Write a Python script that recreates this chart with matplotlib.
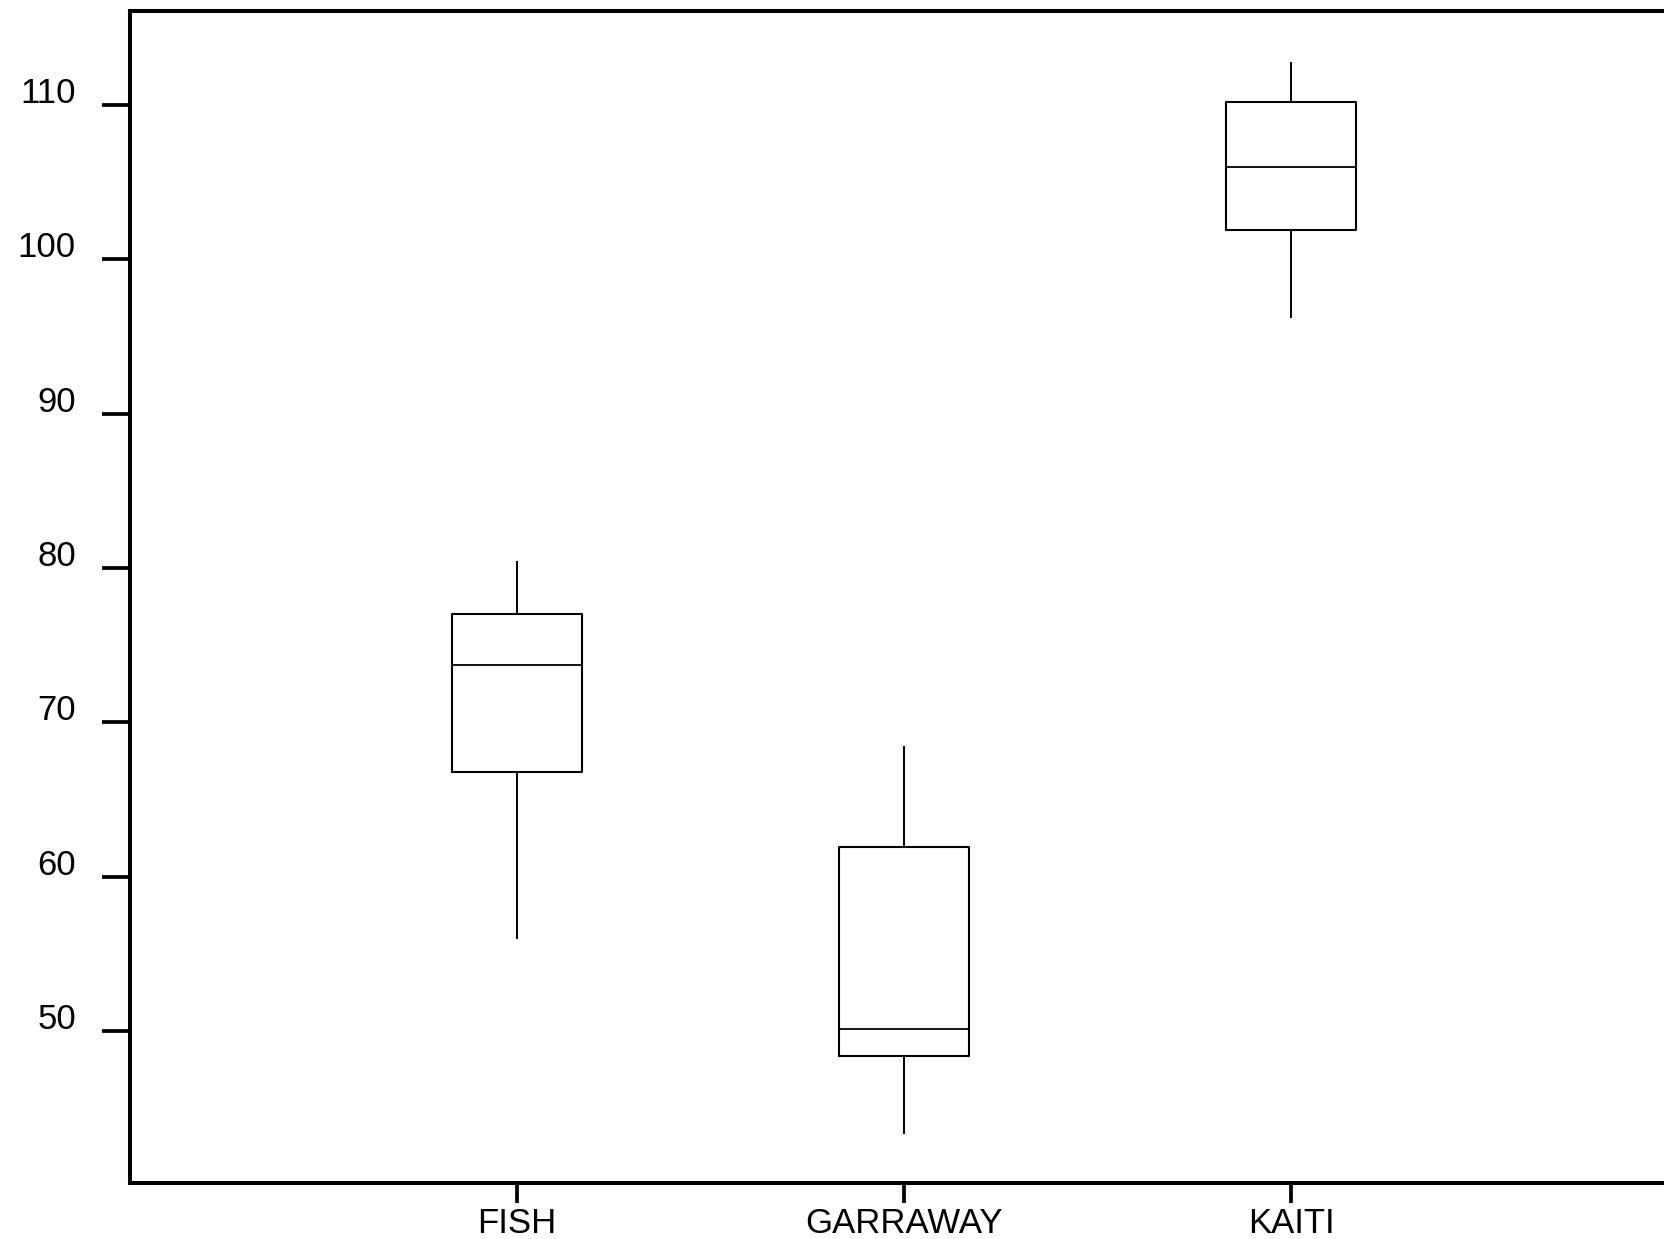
import matplotlib
matplotlib.use("Agg")
import matplotlib.pyplot as plt
from matplotlib.transforms import ScaledTranslation

# box statistics
groups = ["FISH", "GARRAWAY", "KAITI"]
whisker_low = [56.0, 43.4, 96.3]
q1 = [66.8, 48.4, 101.9]
median = [73.7, 50.1, 106.0]
q3 = [77.0, 61.9, 110.2]
whisker_high = [80.4, 68.4, 112.7]
yticks = [50, 60, 70, 80, 90, 100, 110]

plt.rcParams["font.family"] = ["Liberation Sans", "DejaVu Sans"]

fig = plt.figure(figsize=(16.64, 12.39), dpi=100)
ax = fig.add_axes([130 / 1664, 56 / 1239, 1 - 130 / 1664, 1172 / 1239])

stats = []
for i, g in enumerate(groups):
    stats.append(dict(label=g, whislo=whisker_low[i], q1=q1[i], med=median[i],
                      q3=q3[i], whishi=whisker_high[i]))

pos = list(range(1, len(groups) + 1))
ax.bxp(stats, positions=pos, widths=0.335, showcaps=False, showfliers=False,
       boxprops=dict(color="black", linewidth=1.5),
       medianprops=dict(color="black", linewidth=1.3),
       whiskerprops=dict(color="black", linewidth=1.4))

ax.set_xlim(0, 1534 / 387)
ax.set_ylim(40.15, 116.1)

ax.spines["right"].set_visible(False)
for s in ["left", "top", "bottom"]:
    ax.spines[s].set_linewidth(2.9)

ax.set_yticks(yticks)
ax.set_yticklabels([str(v) for v in yticks])
ax.set_xticks(pos)
ax.set_xticklabels(groups)

ax.tick_params(axis="y", direction="out", length=20, width=2.7, pad=19, labelsize=25)
ax.tick_params(axis="x", direction="out", length=14.5, width=2.7, pad=3, labelsize=25)

# y labels sit a little above their ticks
for lab in ax.get_yticklabels():
    lab.set_transform(lab.get_transform() + ScaledTranslation(0, 0.15, fig.dpi_scale_trans))

fig.savefig("out.png", dpi=100)
